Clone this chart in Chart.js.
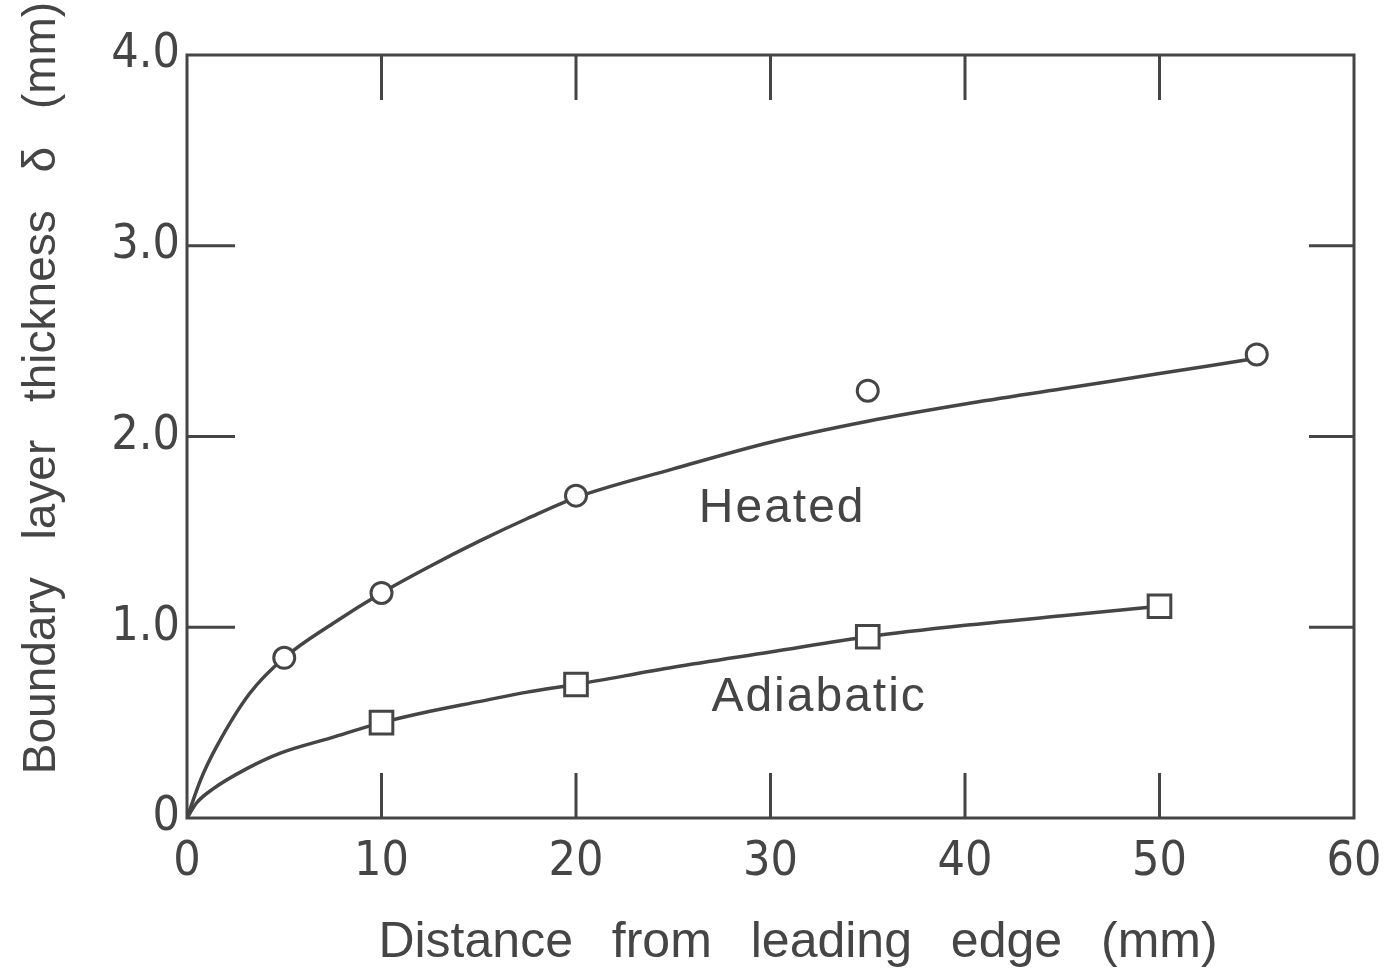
<!DOCTYPE html>
<html>
<head>
<meta charset="utf-8">
<script src="https://cdn.jsdelivr.net/npm/chart.js@4"></script>
<style>
  html, body { margin: 0; padding: 0; background: #fff; }
  #wrap { width: 1387px; height: 969px; }
</style>
</head>
<body>
<div id="wrap"><canvas id="grafico"></canvas></div>
<script>
// measured points
const heatedX = [5, 10, 20, 35, 55];
const heatedY = [0.84, 1.18, 1.69, 2.24, 2.43];
const adiabaticX = [10, 20, 35, 50];
const adiabaticY = [0.50, 0.70, 0.95, 1.11];

// hand drawn fit curves
const heatedCurveX = [0, 0.7, 1.5, 3.2, 5, 7.5, 10, 12.5, 15, 17.5, 20, 25, 30, 35, 40, 45, 50, 55];
const heatedCurveY = [0, 0.20, 0.37, 0.65, 0.84, 1.02, 1.18, 1.32, 1.45, 1.57, 1.68, 1.83, 1.97, 2.08, 2.17, 2.25, 2.33, 2.41];
const adiabaticCurveX = [0, 0.5, 1.3, 3.1, 4.8, 7.4, 10, 12.5, 15, 17.5, 20, 25, 30, 35, 40, 45, 50];
const adiabaticCurveY = [0, 0.08, 0.15, 0.26, 0.34, 0.42, 0.50, 0.56, 0.61, 0.66, 0.70, 0.79, 0.87, 0.95, 1.01, 1.06, 1.11];

const xTicks = [0, 10, 20, 30, 40, 50, 60];
const yTicks = [0, 1, 2, 3, 4];
const innerXTicks = [10, 20, 30, 40, 50];
const innerYTicks = [1, 2, 3];

const labels = [
  { text: "Heated", x: 30.6, y: 1.62 },
  { text: "Adiabatic", x: 32.5, y: 0.63 }
];

const ink = "#454545";
const tickFont = '"Liberation Sans Narrow", "DejaVu Sans Condensed", sans-serif';
const textFont = '"Liberation Sans", "DejaVu Sans", sans-serif';

const pts = (xs, ys) => xs.map((x, i) => ({ x: x, y: ys[i] }));

const framePlugin = {
  id: "frame",
  afterDatasetsDraw(chart) {
    const { ctx, chartArea: a, scales } = chart;
    ctx.save();
    ctx.strokeStyle = ink;
    ctx.lineWidth = 3;
    ctx.strokeRect(a.left, a.top, a.right - a.left, a.bottom - a.top);
    ctx.beginPath();
    innerXTicks.forEach(v => {
      const px = scales.x.getPixelForValue(v);
      ctx.moveTo(px, a.bottom); ctx.lineTo(px, a.bottom - 45);
      ctx.moveTo(px, a.top); ctx.lineTo(px, a.top + 45);
    });
    innerYTicks.forEach(v => {
      const py = scales.y.getPixelForValue(v);
      ctx.moveTo(a.left, py); ctx.lineTo(a.left + 48, py);
      ctx.moveTo(a.right, py); ctx.lineTo(a.right - 45, py);
    });
    ctx.stroke();

    // curve labels
    ctx.fillStyle = ink;
    ctx.font = "48px " + textFont;
    ctx.textAlign = "center";
    ctx.textBaseline = "middle";
    ctx.letterSpacing = "2px";
    labels.forEach(l => {
      ctx.fillText(l.text, scales.x.getPixelForValue(l.x), scales.y.getPixelForValue(l.y));
    });

    // axis titles
    ctx.textBaseline = "alphabetic";
    ctx.font = "50px " + textFont;
    ctx.letterSpacing = "0px";
    ctx.wordSpacing = "25px";
    ctx.fillText("Distance from leading edge (mm)", 798, 957);

    ctx.font = "46px " + textFont;
    ctx.translate(55, 388);
    ctx.rotate(-Math.PI / 2);
    ctx.fillText("Boundary layer thickness δ (mm)", 0, 0);
    ctx.restore();
  }
};

const canvas = document.getElementById("grafico");
const config = {
  type: "scatter",
  data: {
    datasets: [
      {
        label: "Heated",
        data: pts(heatedX, heatedY),
        pointStyle: "circle",
        pointRadius: 10.5,
        pointBorderWidth: 3,
        pointBorderColor: ink,
        pointBackgroundColor: "#fff",
        order: 0
      },
      {
        label: "Adiabatic",
        data: pts(adiabaticX, adiabaticY),
        pointStyle: "rect",
        pointRadius: 16,
        pointBorderWidth: 3,
        pointBorderColor: ink,
        pointBackgroundColor: "#fff",
        order: 0
      },
      {
        type: "line",
        label: "Heated fit",
        data: pts(heatedCurveX, heatedCurveY),
        borderColor: ink,
        borderWidth: 3.5,
        pointRadius: 0,
        cubicInterpolationMode: "monotone",
        fill: false,
        order: 1
      },
      {
        type: "line",
        label: "Adiabatic fit",
        data: pts(adiabaticCurveX, adiabaticCurveY),
        borderColor: ink,
        borderWidth: 3.5,
        pointRadius: 0,
        cubicInterpolationMode: "monotone",
        fill: false,
        order: 1
      }
    ]
  },
  options: {
    responsive: true,
    maintainAspectRatio: false,
    animation: false,
    events: [],
    layout: { padding: { top: 55, right: 33, left: 0, bottom: 0 } },
    plugins: { legend: { display: false }, tooltip: { enabled: false } },
    scales: {
      x: {
        type: "linear",
        min: 0,
        max: 60,
        afterBuildTicks: s => { s.ticks = xTicks.map(v => ({ value: v })); },
        afterFit: s => { s.height = 151; s.paddingLeft = 0; s.paddingRight = 0; },
        grid: { display: false, drawTicks: false },
        border: { display: false },
        ticks: {
          padding: 16,
          color: ink,
          font: { family: tickFont, size: 48 },
          maxRotation: 0,
          callback: v => String(v)
        }
      },
      y: {
        type: "linear",
        min: 0,
        max: 4,
        afterBuildTicks: s => { s.ticks = yTicks.map(v => ({ value: v })); },
        afterFit: s => { s.width = 187; s.paddingTop = 0; s.paddingBottom = 0; },
        grid: { display: false, drawTicks: false },
        border: { display: false },
        ticks: {
          padding: 7,
          color: ink,
          font: { family: tickFont, size: 48 },
          callback: v => (v === 0 ? "0" : v.toFixed(1))
        }
      }
    }
  },
  plugins: [framePlugin]
};

let myChart = new Chart(canvas, config);
</script>
</body>
</html>
